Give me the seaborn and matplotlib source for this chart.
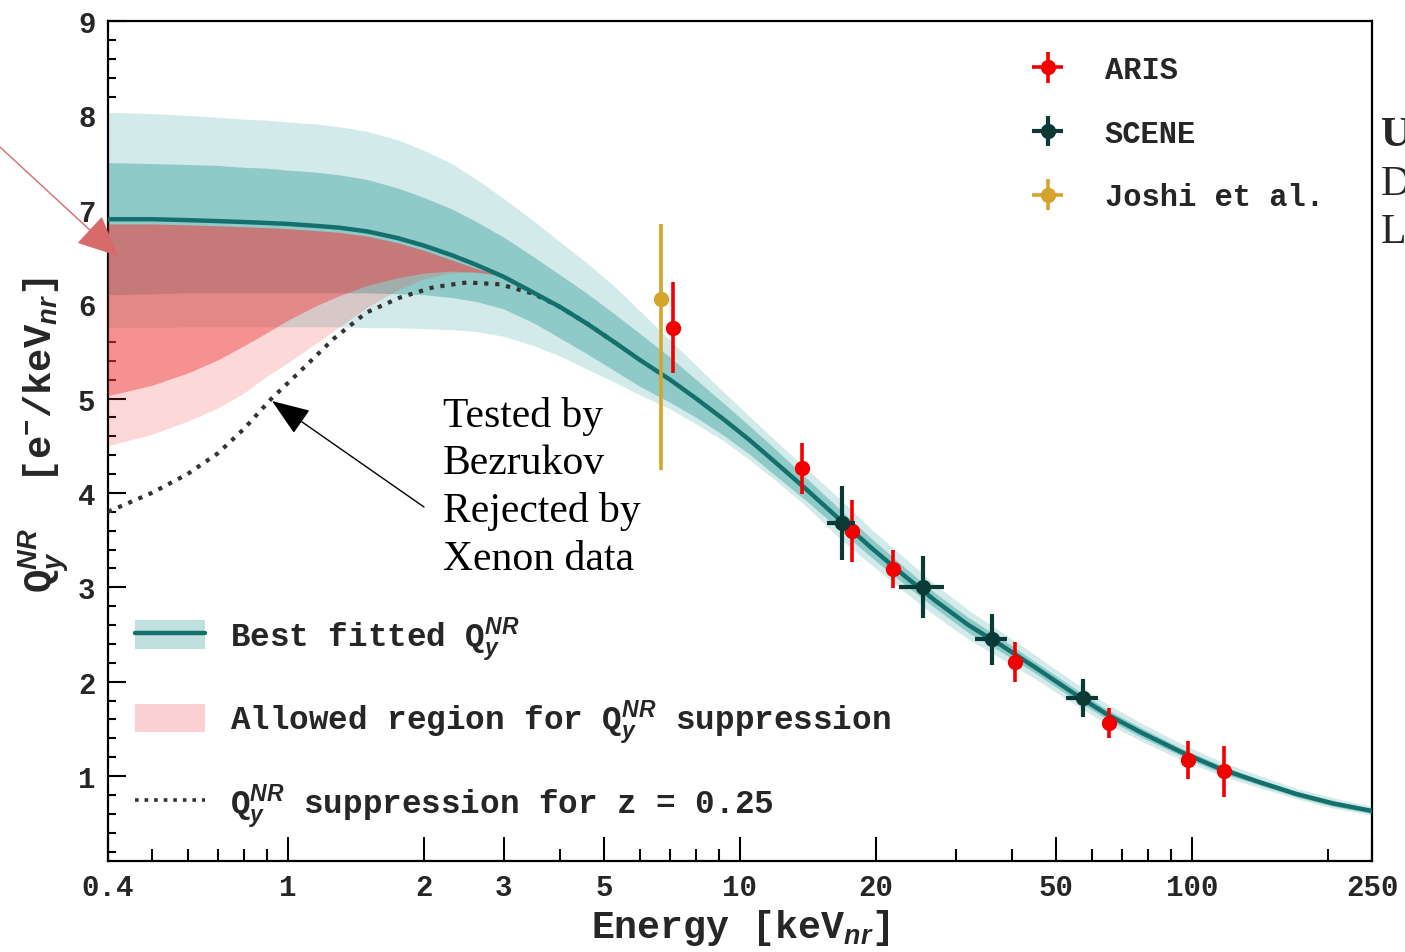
import matplotlib
matplotlib.use("Agg")
import matplotlib.pyplot as plt
import seaborn as sns
import numpy as np
import pandas as pd
from matplotlib.patches import Patch
from matplotlib.lines import Line2D
from matplotlib.legend_handler import HandlerTuple
from matplotlib.ticker import FixedLocator, FixedFormatter, NullFormatter, MultipleLocator

# ---------------- data ----------------
fit_energy = [0.4, 0.5, 0.6, 0.7, 0.8, 0.9, 1.0, 1.15, 1.3, 1.5, 1.75, 2.0, 2.3, 2.6, 3.0, 3.5,
              4.0, 4.6, 5.3, 6.0, 7.0, 8.0, 9.2, 10.5, 12, 14, 16.6, 19.5, 23, 27, 32, 38, 45,
              55, 65, 78, 95, 115, 140, 170, 205, 250]
fit_central = [6.90, 6.90, 6.89, 6.88, 6.87, 6.86, 6.85, 6.83, 6.81, 6.77, 6.70, 6.62, 6.52, 6.42,
               6.29, 6.12, 5.97, 5.79, 5.59, 5.41, 5.20, 5.00, 4.78, 4.56, 4.32, 4.04, 3.72, 3.42,
               3.13, 2.86, 2.60, 2.38, 2.15, 1.87, 1.65, 1.45, 1.25, 1.08, 0.94, 0.81, 0.71, 0.63]
fit_1s_up = [7.50, 7.49, 7.48, 7.47, 7.45, 7.44, 7.42, 7.40, 7.37, 7.32, 7.23, 7.13, 7.01, 6.88,
             6.71, 6.50, 6.31, 6.11, 5.89, 5.69, 5.44, 5.20, 4.95, 4.71, 4.46, 4.16, 3.83, 3.52,
             3.22, 2.94, 2.68, 2.45, 2.21, 1.93, 1.70, 1.50, 1.29, 1.12, 0.97, 0.84, 0.74, 0.655]
fit_1s_lo = [6.10, 6.11, 6.12, 6.12, 6.12, 6.12, 6.12, 6.12, 6.12, 6.12, 6.11, 6.10, 6.07, 6.03,
             5.95, 5.80, 5.64, 5.47, 5.29, 5.13, 4.96, 4.80, 4.61, 4.41, 4.18, 3.92, 3.61, 3.32,
             3.04, 2.78, 2.52, 2.31, 2.09, 1.81, 1.60, 1.40, 1.21, 1.04, 0.91, 0.78, 0.68, 0.605]
fit_2s_up = [8.03, 8.02, 8.00, 7.98, 7.96, 7.95, 7.93, 7.91, 7.88, 7.83, 7.74, 7.63, 7.49, 7.33,
             7.12, 6.88, 6.66, 6.43, 6.18, 5.93, 5.62, 5.35, 5.07, 4.81, 4.55, 4.26, 3.94, 3.62,
             3.32, 3.03, 2.76, 2.52, 2.28, 1.99, 1.76, 1.55, 1.34, 1.16, 1.01, 0.87, 0.77, 0.68]
fit_2s_lo = [5.75, 5.75, 5.76, 5.76, 5.76, 5.76, 5.76, 5.76, 5.76, 5.75, 5.75, 5.74, 5.73, 5.71,
             5.66, 5.56, 5.45, 5.31, 5.17, 5.04, 4.89, 4.73, 4.55, 4.35, 4.13, 3.86, 3.52, 3.24,
             2.96, 2.70, 2.45, 2.24, 2.03, 1.76, 1.55, 1.36, 1.17, 1.01, 0.88, 0.76, 0.66, 0.585]

red_energy = [0.4, 0.5, 0.6, 0.7, 0.8, 0.9, 1.0, 1.15, 1.3, 1.5, 1.75, 2.0, 2.3, 2.6, 2.9]
red_upper = [6.85, 6.85, 6.84, 6.83, 6.82, 6.81, 6.80, 6.78, 6.76, 6.72, 6.65, 6.57, 6.47, 6.38, 6.31]
red_inner_lower = [5.03, 5.14, 5.27, 5.41, 5.56, 5.70, 5.83, 5.98, 6.09, 6.20, 6.28, 6.33, 6.35,
                   6.34, 6.31]
red_outer_lower = [4.50, 4.62, 4.76, 4.90, 5.06, 5.24, 5.38, 5.58, 5.76, 5.97, 6.15, 6.27, 6.33,
                   6.34, 6.31]

dot_energy = [0.4, 0.5, 0.6, 0.7, 0.8, 0.92, 1.06, 1.26, 1.49, 1.77, 2.1, 2.49, 2.95, 3.49, 4.0,
              4.6, 5.3]
dot_values = [3.80, 4.00, 4.20, 4.42, 4.68, 5.00, 5.28, 5.63, 5.91, 6.07, 6.18, 6.23, 6.21, 6.11,
              5.97, 5.79, 5.59]

aris_E = [7.1, 13.7, 17.7, 21.8, 40.6, 65.5, 98.1, 117.8]
aris_Q = [5.75, 4.26, 3.60, 3.19, 2.21, 1.56, 1.17, 1.05]
aris_yerr = [0.48, 0.27, 0.33, 0.20, 0.21, 0.16, 0.20, 0.27]
aris_xerr = [0.1, 0.2, 0.25, 0.3, 0.5, 0.8, 1.1, 1.3]

scene_E = [16.8, 25.4, 36.0, 57.3]
scene_Q = [3.68, 3.00, 2.45, 1.83]
scene_yerr = [0.39, 0.33, 0.27, 0.20]
scene_xerr = [1.2, 2.9, 2.9, 4.6]

joshi_E = [6.7]
joshi_Q = [6.05]
joshi_yerr_lo = [1.81]
joshi_yerr_hi = [0.80]
joshi_xerr = [0.05]

x_major = [0.4, 1, 2, 3, 5, 10, 20, 50, 100, 250]
x_major_labels = ["0.4", "1", "2", "3", "5", "10", "20", "50", "100", "250"]
x_minor = [0.5, 0.6, 0.7, 0.8, 0.9, 4, 6, 7, 8, 9, 30, 40, 60, 70, 80, 90, 200]
y_major = [1, 2, 3, 4, 5, 6, 7, 8, 9]

# ---------------- style ----------------
sns.set_theme(style="ticks")
plt.rcParams["font.family"] = ["Liberation Mono", "DejaVu Sans"]
plt.rcParams["font.weight"] = "bold"
plt.rcParams["mathtext.fontset"] = "custom"
plt.rcParams["mathtext.rm"] = "Liberation Mono:bold"
plt.rcParams["mathtext.it"] = "Liberation Sans:italic:bold"
plt.rcParams["mathtext.bf"] = "Liberation Sans:italic:bold"

C_LINE = "#13706d"
C_1S = "#8fcac8"
C_2S = "#d3eaea"
C_RED = "#f03c3c"
C_ARIS = "#f20000"
C_SCENE = "#0b3a36"
C_JOSHI = "#d4a52c"

fig = plt.figure(figsize=(14.05, 9.53), dpi=100)
fig.patch.set_facecolor("white")
ax = fig.add_axes([108 / 1405, 1 - 862 / 953, 1264 / 1405, 840 / 953])
ax.set_facecolor("white")
ax.set_xscale("log")

# bands
ax.fill_between(fit_energy, fit_2s_lo, fit_2s_up, color=C_2S, lw=0, zorder=1)
ax.fill_between(fit_energy, fit_1s_lo, fit_1s_up, color=C_1S, lw=0, zorder=2)
ax.fill_between(red_energy, red_outer_lower, red_upper, color=C_RED, alpha=0.2, lw=0, zorder=3)
ax.fill_between(red_energy, red_inner_lower, red_upper, color=C_RED, alpha=0.45, lw=0, zorder=4)

dot_df = pd.DataFrame({"E": dot_energy, "Q": dot_values})
sns.lineplot(data=dot_df, x="E", y="Q", ax=ax, color="#333333", lw=3.0, linestyle=":",
             sort=False, legend=False, zorder=5)
fit_df = pd.DataFrame({"E": fit_energy, "Q": fit_central})
sns.lineplot(data=fit_df, x="E", y="Q", ax=ax, color=C_LINE, lw=3.2, sort=False,
             legend=False, zorder=6)

# data points
eb_j = ax.errorbar(joshi_E, joshi_Q, yerr=[joshi_yerr_lo, joshi_yerr_hi], xerr=joshi_xerr,
                   fmt="o", color=C_JOSHI, ms=10, elinewidth=2.6, capsize=0, zorder=7,
                   label="Joshi et al.")
eb_a = ax.errorbar(aris_E, aris_Q, yerr=aris_yerr, xerr=aris_xerr, fmt="o", color=C_ARIS,
                   ms=10, elinewidth=2.6, capsize=0, zorder=8, label="ARIS")
eb_s = ax.errorbar(scene_E, scene_Q, yerr=scene_yerr, xerr=scene_xerr, fmt="o", color=C_SCENE,
                   ms=10, elinewidth=3.0, capsize=0, zorder=9, label="SCENE")

# axes
ax.set_xlim(0.4, 250)
ax.set_ylim(0.1, 9)
ax.xaxis.set_major_locator(FixedLocator(x_major))
ax.xaxis.set_major_formatter(FixedFormatter(x_major_labels))
ax.xaxis.set_minor_locator(FixedLocator(x_minor))
ax.xaxis.set_minor_formatter(NullFormatter())
ax.yaxis.set_major_locator(FixedLocator(y_major))
ax.yaxis.set_minor_locator(MultipleLocator(0.2))
ax.tick_params(axis="both", which="both", direction="in", top=False, right=False,
               width=1.5, color="black")
ax.tick_params(axis="x", which="major", length=17, pad=9, labelsize=21)
ax.tick_params(axis="x", which="minor", length=9)
ax.tick_params(axis="y", which="major", length=13, pad=9, labelsize=21)
ax.tick_params(axis="y", which="minor", length=6)
for lab in ax.get_xticklabels() + ax.get_yticklabels():
    lab.set_fontweight("bold")
for s in ax.spines.values():
    s.set_linewidth(1.6)
    s.set_color("black")

ax.set_xlabel("Energy [keV$_{nr}$]", fontsize=27.5, fontweight="bold")
ax.xaxis.set_label_coords(0.5, -0.055)
ax.set_ylabel("Q$_y^{NR}$  [e$^{-}$/keV$_{nr}$]", fontsize=28, fontweight="bold")
ax.yaxis.set_label_coords(-0.029, 0.508)

# legends
leg1 = ax.legend(handles=[eb_a, eb_s, eb_j], labels=["ARIS", "SCENE", "Joshi et al."],
                 loc="upper left", bbox_to_anchor=(1030 / 1405, 1 - 56 / 953),
                 bbox_transform=fig.transFigure, frameon=False, fontsize=22,
                 handlelength=1.15, handletextpad=1.3, labelspacing=1.1, borderpad=0,
                 borderaxespad=0)
for t in leg1.get_texts():
    t.set_fontweight("bold")
ax.add_artist(leg1)

h_fit = (Patch(facecolor="#bfe0df", edgecolor="none"), Line2D([], [], color=C_LINE, lw=3.2))
h_red = Patch(facecolor="#fbd0d3", edgecolor="none")
h_dot = Line2D([], [], color="#333333", lw=2.6, linestyle=":")
leg2 = ax.legend(handles=[h_fit, h_red, h_dot],
                 labels=["Best fitted Q$_y^{NR}$",
                         "Allowed region for Q$_y^{NR}$ suppression",
                         "Q$_y^{NR}$ suppression for z = 0.25"],
                 handler_map={tuple: HandlerTuple(ndivide=1, pad=0)},
                 loc="upper left", bbox_to_anchor=(135 / 1405, 1 - 615 / 953),
                 bbox_transform=fig.transFigure, frameon=False, fontsize=23.5,
                 handlelength=2.15, handleheight=0.95, handletextpad=0.77,
                 labelspacing=1.07, borderpad=0, borderaxespad=0)
for t in leg2.get_texts():
    t.set_fontweight("bold")

# annotations
ax.annotate("", xy=(118, 953 - 257), xycoords="figure pixels",
            xytext=(0, 953 - 148), textcoords="figure pixels",
            arrowprops=dict(arrowstyle="-|>,head_length=1.3,head_width=0.6",
                            color="#d86a6a", lw=1.0, shrinkA=0, shrinkB=0,
                            mutation_scale=20), zorder=12, annotation_clip=False)
ax.annotate("", xy=(272, 953 - 402), xycoords="figure pixels",
            xytext=(424, 953 - 508), textcoords="figure pixels",
            arrowprops=dict(arrowstyle="-|>,head_length=1.2,head_width=0.45",
                            color="black", lw=1.0, shrinkA=0, shrinkB=0,
                            mutation_scale=20), zorder=12, annotation_clip=False)

fig.text(443 / 1405, 1 - 397 / 953, "Tested by\nBezrukov\nRejected by\nXenon data",
         family="Liberation Serif", fontweight="normal", fontsize=30, va="top", ha="left",
         linespacing=1.30, color="black")

fig.text(1381 / 1405, 1 - 146 / 953, "U", family="Liberation Serif", fontweight="bold",
         fontsize=30, va="baseline", ha="left")
fig.text(1381 / 1405, 1 - 195 / 953, "D", family="Liberation Serif", fontweight="normal",
         fontsize=30, va="baseline", ha="left")
fig.text(1381 / 1405, 1 - 243 / 953, "L", family="Liberation Serif", fontweight="normal",
         fontsize=30, va="baseline", ha="left")

fig.savefig("out.png", dpi=100, facecolor="white")
